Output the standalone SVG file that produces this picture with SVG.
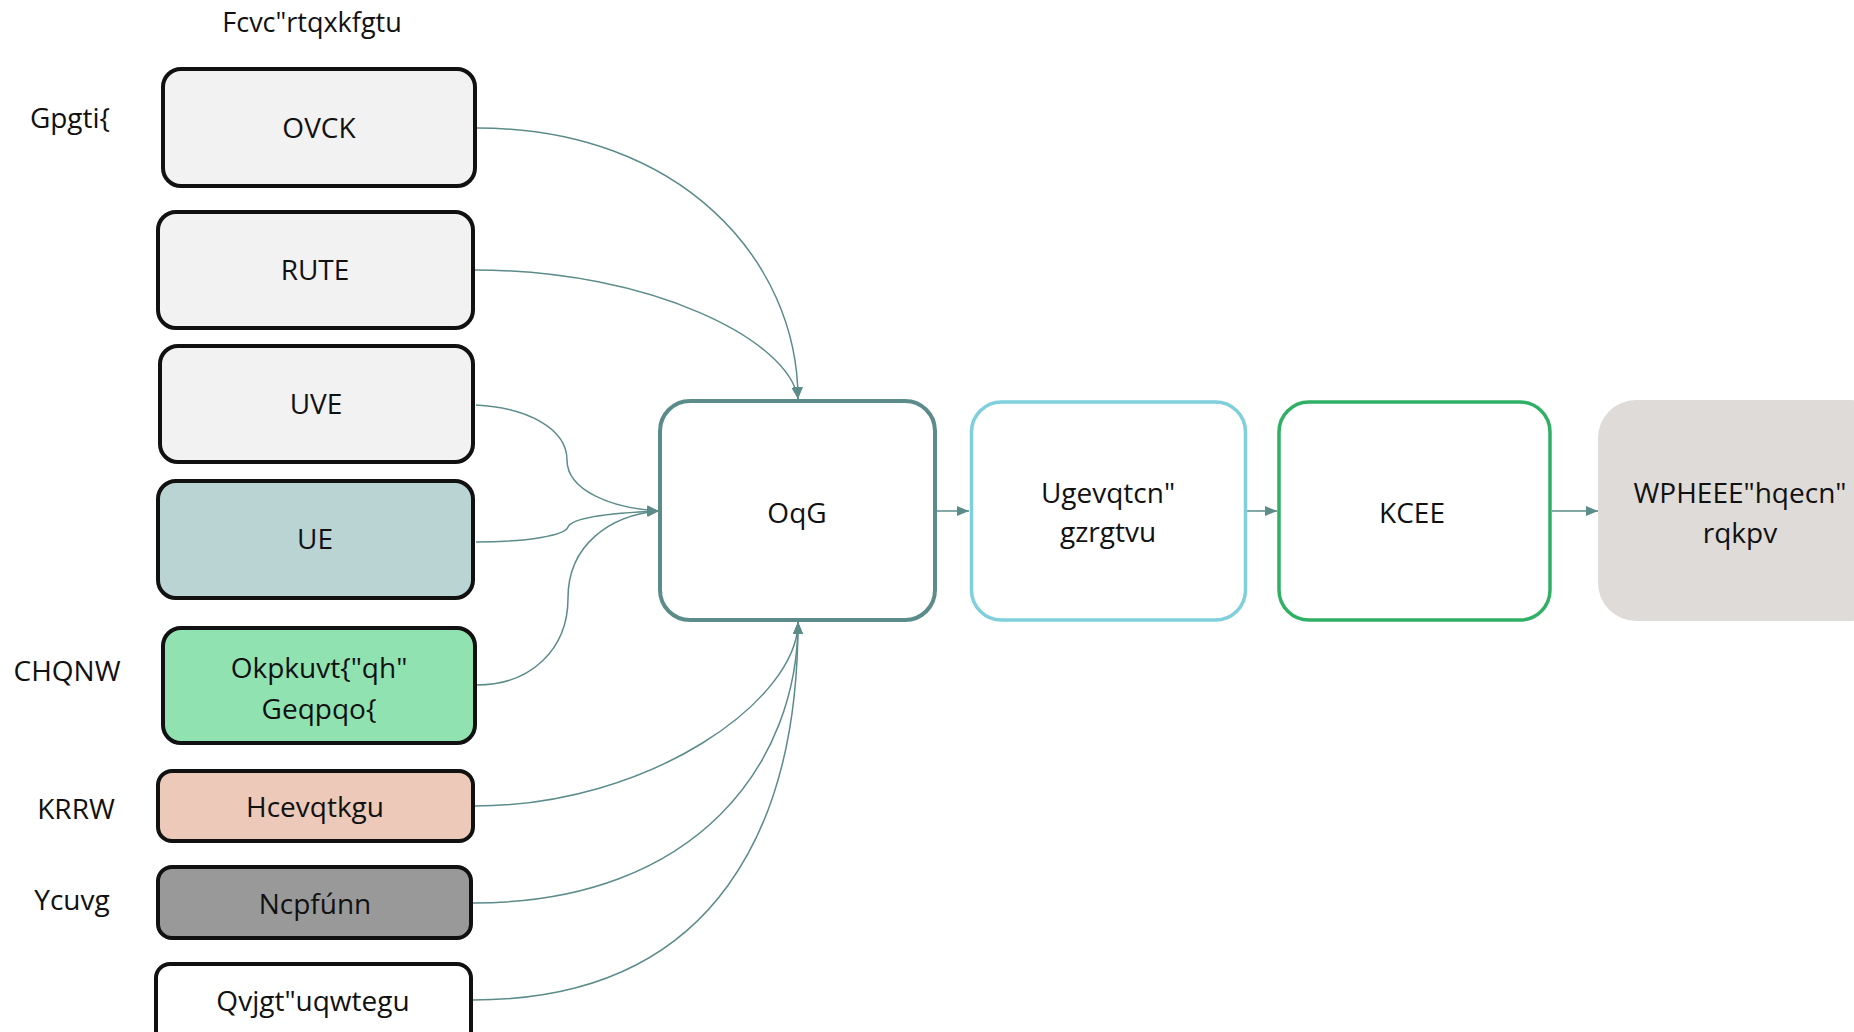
<svg xmlns="http://www.w3.org/2000/svg" width="1854" height="1032" viewBox="0 0 1854 1032">
<style>
text{font-family:"Open Sans","Noto Sans","DejaVu Sans",sans-serif;fill:#111;font-size:28px;text-anchor:middle}
.src{stroke:#111;stroke-width:4}
.c{fill:none;stroke:#5b8c8a;stroke-width:1.5}
</style>
<defs>
<marker id="ah" viewBox="0 0 12 10" refX="12" refY="5" markerWidth="12" markerHeight="10" markerUnits="userSpaceOnUse" orient="auto">
<path d="M0,0 L12,5 L0,10 z" fill="#5b8c8a"/>
</marker>
</defs>
<rect width="1854" height="1032" fill="#fff"/>
<text x="312" y="32" style="font-size:27px">Fcvc"rtqxkfgtu</text>
<g id="labels">
<text x="70" y="128">Gpgti{</text>
<text x="67" y="681">CHQNW</text>
<text x="76" y="819">KRRW</text>
<text x="72" y="910">Ycuvg</text>
</g>
<g id="connectors">
<path class="c" d="M477,128 C680,128 798,260 798,399" marker-end="url(#ah)"/>
<path class="c" d="M475,270 C650,270 790,340 798,399" marker-end="url(#ah)"/>
<path class="c" d="M476,405 C530,408 567,430 567,460 C567,490 610,508 659,511" marker-end="url(#ah)"/>
<path class="c" d="M476,542 C530,542 565,535 568,527 C572,518 610,513 659,511" marker-end="url(#ah)"/>
<path class="c" d="M477,685 C530,685 568,650 568,598 C568,545 610,515 659,511" marker-end="url(#ah)"/>
<path class="c" d="M475,806 C650,806 798,700 798,622" marker-end="url(#ah)"/>
<path class="c" d="M473,903 C700,903 798,760 798,622" marker-end="url(#ah)"/>
<path class="c" d="M473,1000 C720,1000 798,820 798,622" marker-end="url(#ah)"/>
<path class="c" d="M937,511 L969,511" marker-end="url(#ah)"/>
<path class="c" d="M1247,511 L1277,511" marker-end="url(#ah)"/>
<path class="c" d="M1552,511 L1598,511" marker-end="url(#ah)"/>
</g>
<g id="n-ovck"><rect class="src" x="163" y="69" width="312" height="117" rx="18" fill="#f2f2f2"/><text x="319" y="138">OVCK</text></g>
<g id="n-rute"><rect class="src" x="158" y="212" width="315" height="116" rx="18" fill="#f2f2f2"/><text x="315" y="280">RUTE</text></g>
<g id="n-uve"><rect class="src" x="160" y="346" width="313" height="116" rx="18" fill="#f2f2f2"/><text x="316" y="414">UVE</text></g>
<g id="n-ue"><rect class="src" x="158" y="481" width="315" height="117" rx="18" fill="#bad4d4"/><text x="315" y="549">UE</text></g>
<g id="n-ministry"><rect class="src" x="163" y="628" width="312" height="115" rx="18" fill="#90e2b0"/><text x="319" y="678">Okpkuvt{"qh"</text><text x="319" y="719">Geqpqo{</text></g>
<g id="n-factories"><rect class="src" x="158" y="771" width="315" height="70" rx="14" fill="#ecc9b8"/><text x="315" y="817">Hcevqtkgu</text></g>
<g id="n-landfill"><rect class="src" x="158" y="867" width="313" height="71" rx="14" fill="#999999"/><text x="315" y="914">Ncpfúnn</text></g>
<g id="n-other"><rect class="src" x="156" y="964" width="315" height="90" rx="14" fill="#fff"/><text x="313" y="1011">Qvjgt"uqwtegu</text></g>
<g id="n-moe"><rect x="660" y="401" width="275" height="219" rx="30" fill="#fff" stroke="#5b8c8a" stroke-width="4"/><text x="797" y="523">OqG</text></g>
<g id="n-sectoral"><rect x="971.5" y="402" width="274" height="218" rx="30" fill="#fff" stroke="#80cfdd" stroke-width="3.5"/><text x="1108" y="503">Ugevqtcn"</text><text x="1108" y="542">gzrgtvu</text></g>
<g id="n-iacc"><rect x="1279" y="402" width="271" height="218" rx="30" fill="#fff" stroke="#2fb065" stroke-width="3.5"/><text x="1412" y="523">KCEE</text></g>
<g id="n-unfccc"><rect x="1598" y="400" width="290" height="221" rx="38" fill="#dedbd8"/><text x="1740" y="503">WPHEEE"hqecn"</text><text x="1740" y="543">rqkpv</text></g>
</svg>
